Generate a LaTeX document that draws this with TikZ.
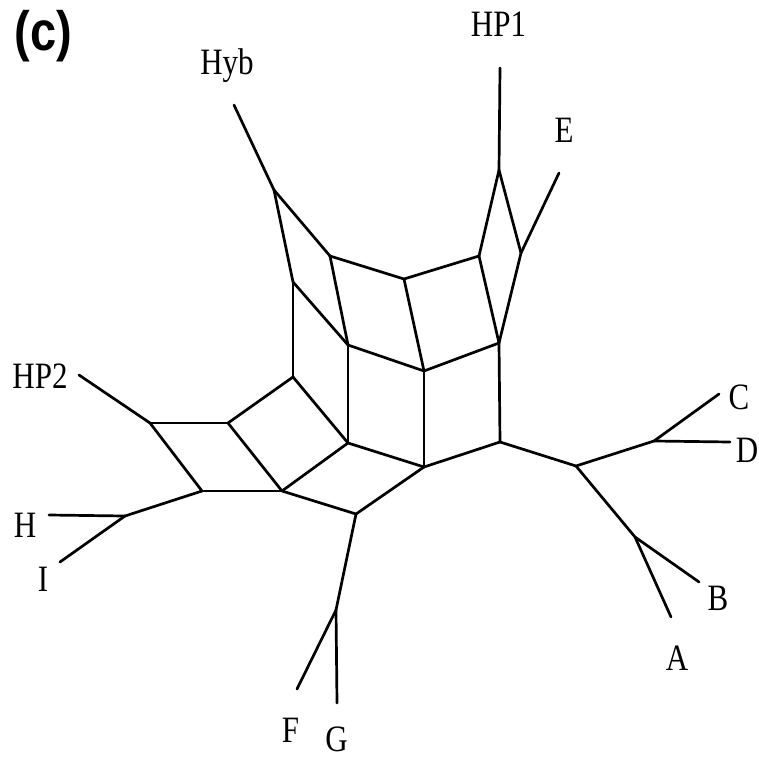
\documentclass[tikz,border=0pt]{standalone}
\usepackage{fontspec}
\setmainfont{Liberation Serif}
\newfontfamily\labelsans{Liberation Sans}
\tikzset{
  edge/.style={line width=2.7pt, line cap=round},
  lbl/.style={anchor=base, inner sep=0pt, font=\fontsize{31}{31}\selectfont},
  pt/.style={coordinate}
}
\newcommand{\tlab}[1]{\scalebox{1}[1.2]{#1}}
\begin{document}
\begin{tikzpicture}[x=1pt,y=-1pt]
\useasboundingbox (0,0) rectangle (759,759);
% internal nodes
\coordinate (a) at (274,190);
\coordinate (b) at (330,256);
\coordinate (c) at (404,279);
\coordinate (d) at (293,282);
\coordinate (e) at (348,345);
\coordinate (f) at (424,371);
\coordinate (g) at (499,170);
\coordinate (h) at (479,256);
\coordinate (i) at (521,253);
\coordinate (j) at (499,343);
\coordinate (k) at (150,423);
\coordinate (l) at (228,423);
\coordinate (m) at (293,377);
\coordinate (n) at (348,443);
\coordinate (o) at (202,491);
\coordinate (p) at (282,491);
\coordinate (q) at (356,514);
\coordinate (r) at (125,516);
\coordinate (s) at (424,467);
\coordinate (t) at (336,610);
\coordinate (u) at (500,442);
\coordinate (v) at (576,466);
\coordinate (w) at (654,441);
\coordinate (x) at (635,537);
% leaf ends
\coordinate (lHyb) at (234,105);
\coordinate (lHP1) at (500,68);
\coordinate (lE) at (559,173);
\coordinate (lHP2) at (79,375);
\coordinate (lH) at (49,515);
\coordinate (lI) at (60,562);
\coordinate (lF) at (297,689);
\coordinate (lG) at (337,703);
\coordinate (lC) at (719,394);
\coordinate (lD) at (730,442);
\coordinate (lB) at (699,582);
\coordinate (lA) at (671,617);
% edges
\draw[edge] (lHyb) -- (a);
\draw[edge] (a) -- (b);
\draw[edge] (a) -- (d);
\draw[edge] (b) -- (c);
\draw[edge] (b) -- (e);
\draw[edge] (d) -- (e);
\draw[edge] (d) -- (m);
\draw[edge] (c) -- (h);
\draw[edge] (c) -- (f);
\draw[edge] (e) -- (f);
\draw[edge] (e) -- (n);
\draw[edge] (f) -- (j);
\draw[edge] (f) -- (s);
\draw[edge] (h) -- (g);
\draw[edge] (h) -- (j);
\draw[edge] (g) -- (i);
\draw[edge] (g) -- (lHP1);
\draw[edge] (i) -- (lE);
\draw[edge] (i) -- (j);
\draw[edge] (j) -- (u);
\draw[edge] (m) -- (l);
\draw[edge] (m) -- (n);
\draw[edge] (l) -- (k);
\draw[edge] (l) -- (p);
\draw[edge] (k) -- (lHP2);
\draw[edge] (k) -- (o);
\draw[edge] (o) -- (p);
\draw[edge] (o) -- (r);
\draw[edge] (r) -- (lH);
\draw[edge] (r) -- (lI);
\draw[edge] (p) -- (n);
\draw[edge] (p) -- (q);
\draw[edge] (n) -- (s);
\draw[edge] (q) -- (s);
\draw[edge] (q) -- (t);
\draw[edge] (t) -- (lF);
\draw[edge] (t) -- (lG);
\draw[edge] (s) -- (u);
\draw[edge] (u) -- (v);
\draw[edge] (v) -- (w);
\draw[edge] (v) -- (x);
\draw[edge] (w) -- (lC);
\draw[edge] (w) -- (lD);
\draw[edge] (x) -- (lA);
\draw[edge] (x) -- (lB);
% labels
\node[lbl] (tHP1) at (498.5,37) {\tlab{HP1}};
\node[lbl] (tHyb) at (227,75) {\tlab{Hyb}};
\node[lbl] (tE) at (564,143) {\tlab{E}};
\node[lbl] (tHP2) at (40,388) {\tlab{HP2}};
\node[lbl] (tH) at (25,537) {\tlab{H}};
\node[lbl] (tI) at (43,591) {\tlab{I}};
\node[lbl] (tF) at (290.5,742) {\tlab{F}};
\node[lbl] (tG) at (336.5,751) {\tlab{G}};
\node[lbl] (tC) at (739,409) {\tlab{C}};
\node[lbl] (tD) at (747,462) {\tlab{D}};
\node[lbl] (tB) at (718,610) {\tlab{B}};
\node[lbl] (tA) at (677,670) {\tlab{A}};
\node[anchor=base, inner sep=0pt, font=\labelsans\bfseries\fontsize{47}{47}\selectfont] (tc) at (43.5,51) {\scalebox{1}[1.18]{(c)}};
\end{tikzpicture}
\end{document}
